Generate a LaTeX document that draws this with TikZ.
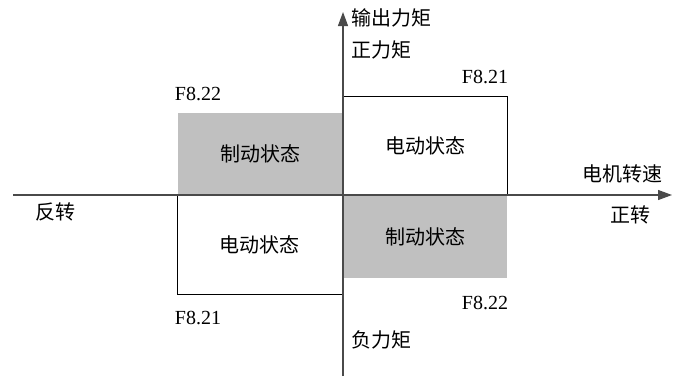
\documentclass[tikz,border=0pt]{standalone}
\usepackage{fontspec}
\usepackage{xcolor}
\setmainfont{Liberation Serif}
\newfontfamily\cjk{Noto Sans CJK SC}
\usetikzlibrary{arrows.meta, positioning}
\definecolor{BrakeGray}{HTML}{C0C0C0}
\definecolor{AxisGray}{HTML}{4A4A4A}
\tikzset{
    % Quadrant boxes
    motorbox/.style={
        rectangle,
        draw=black,
        fill=white,
        line width=0.6pt,
        inner sep=0pt,
        align=center,
        font=\cjk
    },
    brakebox/.style={
        rectangle,
        draw=none,
        fill=BrakeGray,
        inner sep=0pt,
        align=center,
        font=\cjk
    },
    % Labels
    axislabel/.style={
        font=\cjk,
        inner sep=1pt
    },
    paramlabel/.style={
        font=\rmfamily,
        inner sep=1pt
    },
    % Axes
    axis/.style={
        -{Triangle[length=7pt,width=5pt]},
        line width=0.6pt,
        draw=AxisGray
    }
}

\begin{document}
\begin{tikzpicture}[x=0.5pt, y=-0.5pt, font=\fontsize{10}{12}\selectfont]
    \useasboundingbox (0,0) rectangle (679,376);

    % Origin and axis ends
    \coordinate (o) at (343,195);
    \coordinate (xs) at (13,195);
    \coordinate (xe) at (672,195);
    \coordinate (ys) at (343,376);
    \coordinate (ye) at (343,12);

    % Quadrants
    \node[brakebox, minimum width=82.5pt, minimum height=41pt, anchor=south east] (q2) at (o) {制动状态};
    \node[motorbox, minimum width=82pt, minimum height=49pt, anchor=south west] (q1) at (o) {电动状态};
    \node[motorbox, minimum width=82.5pt, minimum height=49.5pt, anchor=north east] (q3) at (o) {电动状态};
    \node[brakebox, minimum width=82pt, minimum height=41.5pt, anchor=north west] (q4) at (o) {制动状态};

    % Axes
    \draw[axis] (xs) -- (xe);
    \draw[axis] (ys) -- (ye);

    % Axis labels
    \node[axislabel, anchor=west] (torque) at (349,18) {输出力矩};
    \node[axislabel, anchor=west] (postorque) at (349,50) {正力矩};
    \node[axislabel, anchor=west] (negtorque) at (349,340) {负力矩};
    \node[axislabel] (speed) at (622,174) {电机转速};
    \node[axislabel] (fwd) at (630,215) {正转};
    \node[axislabel] (rev) at (55,212) {反转};

    % Parameter labels
    \node[paramlabel] (p1) at (485,77) {F8.21};
    \node[paramlabel] (p2) at (198,94) {F8.22};
    \node[paramlabel] (p3) at (198,318) {F8.21};
    \node[paramlabel] (p4) at (485,303) {F8.22};
\end{tikzpicture}
\end{document}
